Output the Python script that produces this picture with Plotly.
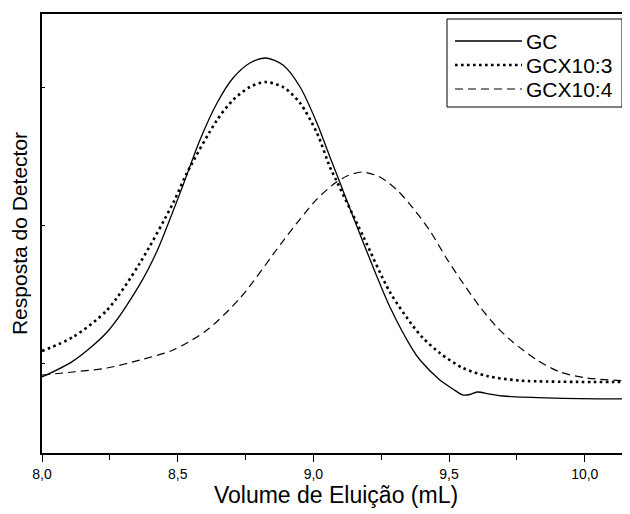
import plotly.graph_objects as go

# Volume de eluição (mL) and detector response (arbitrary units)
gc_x = [8.000, 8.114, 8.240, 8.361, 8.424, 8.483, 8.520, 8.582, 8.645, 8.704, 8.766, 8.825,
        8.888, 8.951, 9.013, 9.061, 9.087, 9.183, 9.282, 9.367, 9.393, 9.466, 9.514, 9.551,
        9.577, 9.603, 9.651, 9.699, 9.883, 10.167]
gc_y = [0.899, 1.014, 1.225, 1.572, 1.812, 2.101, 2.290, 2.616, 2.884, 3.065, 3.174, 3.210,
        3.159, 3.000, 2.739, 2.493, 2.362, 1.877, 1.406, 1.094, 1.022, 0.877, 0.812, 0.768,
        0.772, 0.790, 0.775, 0.761, 0.746, 0.739]

gcx3_x = [8.000, 8.114, 8.240, 8.361, 8.483, 8.534, 8.645, 8.704, 8.766, 8.822, 8.888, 8.951,
          9.013, 9.061, 9.080, 9.183, 9.282, 9.367, 9.404, 9.466, 9.551, 9.640, 9.761, 10.167]
gcx3_y = [1.087, 1.188, 1.384, 1.725, 2.159, 2.377, 2.761, 2.906, 3.000, 3.036, 3.000, 2.884,
          2.667, 2.420, 2.341, 1.920, 1.514, 1.268, 1.181, 1.072, 0.964, 0.906, 0.873, 0.862]

gcx4_x = [8.000, 8.114, 8.240, 8.361, 8.483, 8.608, 8.730, 8.888, 8.951, 9.013, 9.080, 9.124,
          9.179, 9.245, 9.308, 9.367, 9.430, 9.492, 9.551, 9.614, 9.676, 9.735, 9.824, 9.909,
          10.008, 10.167]
gcx4_y = [0.913, 0.935, 0.964, 1.022, 1.094, 1.239, 1.471, 1.884, 2.043, 2.188, 2.304, 2.355,
          2.384, 2.348, 2.254, 2.123, 1.957, 1.754, 1.580, 1.406, 1.261, 1.152, 1.022, 0.935,
          0.891, 0.870]

series_names = ["GC", "GCX10:3", "GCX10:4"]
x_ticks = [8.0, 8.5, 9.0, 9.5, 10.0]
x_tick_text = ["8,0", "8,5", "9,0", "9,5", "10,0"]

FONT = "Arial, Liberation Sans, sans-serif"
styles = [
    dict(color="black", width=1.3),
    dict(color="black", width=2.6, dash="2.6px,3.4px"),
    dict(color="black", width=1.2, dash="8px,5px"),
]

fig = go.Figure()
for name, xs, ys, st in zip(series_names, [gc_x, gcx3_x, gcx4_x], [gc_y, gcx3_y, gcx4_y], styles):
    fig.add_trace(go.Scatter(x=xs, y=ys, mode="lines", name=name, showlegend=False,
                             line=dict(shape="spline", smoothing=0.8, **st)))

# legend box drawn in paper coordinates (plot area spans 588 x 439 px)
def px_x(p):
    return (p - 42) / 588.0

def px_y(p):
    return (453 - p) / 439.0

fig.add_shape(type="rect", xref="paper", yref="paper",
              x0=px_x(447), x1=px_x(622), y0=px_y(107), y1=px_y(19),
              line=dict(color="black", width=1), fillcolor="white", layer="above")
row_y = [41, 65, 89]
for name, ry, st in zip(series_names, row_y, styles):
    sline = dict(color="black", width=st["width"])
    if "dash" in st:
        sline["dash"] = st["dash"]
    fig.add_shape(type="line", xref="paper", yref="paper",
                  x0=px_x(455), x1=px_x(522), y0=px_y(ry), y1=px_y(ry),
                  line=sline, layer="above")
    fig.add_annotation(xref="paper", yref="paper", x=px_x(524), y=px_y(ry),
                       xanchor="left", yanchor="middle", text=name, showarrow=False,
                       font=dict(size=21, family=FONT, color="black"))

# the page adds an 8 px body margin, so the figure is sized to fit the 630x514 window
fig.update_layout(
    width=622, height=506,
    margin=dict(l=34, r=0, t=6, b=61),
    paper_bgcolor="white", plot_bgcolor="white",
    font=dict(family=FONT, color="black"),
    showlegend=False,
    xaxis=dict(range=[8.0, 10.1667], showgrid=False, zeroline=False, automargin=False,
               showline=True, linecolor="black", linewidth=1.5, mirror=True,
               ticks="outside", ticklen=7, tickwidth=1.3, tickcolor="black",
               tickvals=x_ticks, ticktext=x_tick_text,
               tickfont=dict(size=14, family=FONT),
               minor=dict(dtick=0.25, tick0=8.0, ticks="outside", ticklen=5,
                          tickwidth=1.3, tickcolor="black", showgrid=False),
               title=dict(text="Volume de Eluição (mL)", font=dict(size=23, family=FONT),
                          standoff=2)),
    xaxis2=dict(range=[8.0, 10.1667], overlaying="x", side="top", matches="x",
                automargin=False,
                showgrid=False, zeroline=False, showline=False,
                ticks="inside", ticklen=3, tickwidth=1, tickcolor="black",
                dtick=0.25, tick0=8.0, showticklabels=False),
    yaxis=dict(range=[0.348, 3.529], showgrid=False, zeroline=False, automargin=False,
               showline=True, linecolor="black", linewidth=1.5, mirror=False,
               ticks="inside", ticklen=3, tickwidth=1, tickcolor="black",
               tickvals=[1, 2, 3], showticklabels=False,
               title=dict(text="Resposta do Detector", font=dict(size=21, family=FONT),
                          standoff=16)),
)

fig.write_html("out.html")
